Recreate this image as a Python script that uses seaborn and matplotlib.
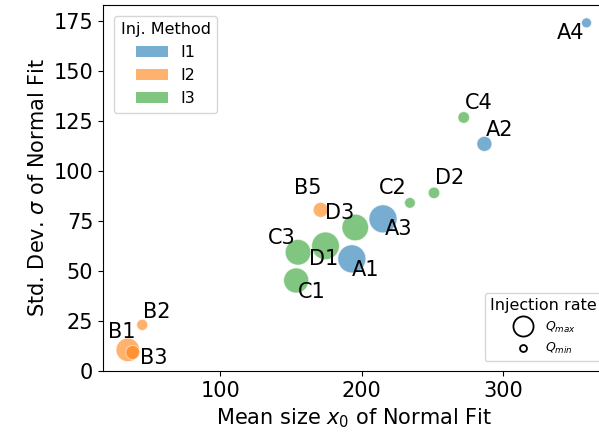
import numpy as np
import pandas as pd
import matplotlib
matplotlib.use('Agg')
import matplotlib.pyplot as plt
from matplotlib.patches import Patch
from matplotlib.lines import Line2D
import seaborn as sns

# Data
labels = ['A1', 'A2', 'A3', 'A4', 'B1', 'B2', 'B3', 'B5',
          'C1', 'C2', 'C3', 'C4', 'D1', 'D2', 'D3']
mean_size = [193, 286.6, 215, 358.7, 34.8, 45, 38.3, 171,
             153.7, 234, 155, 272, 174.4, 251, 195.4]
std_dev = [56, 113.5, 76, 174, 10.5, 23, 9.2, 80.5,
           45.2, 84, 59.3, 126.7, 62.5, 89, 71.7]
method = ['I1', 'I1', 'I1', 'I1', 'I2', 'I2', 'I2', 'I2',
          'I3', 'I3', 'I3', 'I3', 'I3', 'I3', 'I3']
rate = [2.0, 0.57, 2.0, 0.25, 1.4, 0.31, 0.5, 0.57,
        1.6, 0.29, 1.67, 0.34, 1.95, 0.33, 1.8]
method_order = ['I1', 'I2', 'I3']

df = pd.DataFrame({'label': labels, 'x': mean_size, 'y': std_dev,
                   'method': method, 'rate': rate})

palette = dict(zip(method_order, sns.color_palette('tab10', 3)))
ALPHA = 0.6

fig, ax = plt.subplots(figsize=(5.99, 4.41), dpi=100)
# axes runs slightly past the right edge, as in the cropped original
fig.subplots_adjust(left=0.172, right=1.012, bottom=0.159, top=0.989)

sns.scatterplot(data=df, x='x', y='y', hue='method', hue_order=method_order,
                palette=palette, size='rate', sizes=(51, 406), alpha=ALPHA,
                legend=False, ax=ax)

# label offsets (points) so the text sits beside each marker
offsets = {
    'A1': (10, -8), 'A2': (11, 10), 'A3': (11, -7), 'A4': (-11.5, -7.6),
    'B1': (-4.3, 13), 'B2': (10.5, 9.5), 'B3': (14.8, -4), 'B5': (-9, 16),
    'C1': (11, -8), 'C2': (-12, 10.5), 'C3': (-11.5, 10.3), 'C4': (11, 10.6),
    'D1': (-1, -9.4), 'D2': (11, 11), 'D3': (-11.5, 10.5),
}
for lab, xv, yv in zip(labels, mean_size, std_dev):
    ax.annotate(lab, xy=(xv, yv), xytext=offsets[lab], textcoords='offset points',
                ha='center', va='center', fontsize=15)

ax.set_xlim(17.3, 372.6)
ax.set_ylim(0, 183)
ax.set_xticks([100, 200, 300])
ax.set_yticks(np.arange(0, 176, 25))
ax.tick_params(labelsize=15)
ax.set_xlabel('Mean size $x_0$ of Normal Fit', fontsize=15)
ax.set_ylabel('Std. Dev. $\\sigma$ of Normal Fit', fontsize=15)

# legend for injection method
method_handles = [Patch(facecolor=palette[m], alpha=ALPHA, label=m) for m in method_order]
leg1 = ax.legend(handles=method_handles, title='Inj. Method', loc='upper left',
                 fontsize=11.5, title_fontsize=11.5, borderaxespad=0.7)
ax.add_artist(leg1)

# legend for injection rate
rate_handles = [
    Line2D([], [], marker='o', ls='', mfc='none', mec='k', mew=1.3, markersize=14.5, label='$Q_{max}$'),
    Line2D([], [], marker='o', ls='', mfc='none', mec='k', mew=1.3, markersize=5, label='$Q_{min}$'),
]
ax.legend(handles=rate_handles, title='Injection rate', loc='lower right',
          bbox_to_anchor=(0.991, 0.027), borderaxespad=0,
          prop={'size': 9}, title_fontsize=11.5)

plt.savefig('out.png', dpi=100)
plt.close()
